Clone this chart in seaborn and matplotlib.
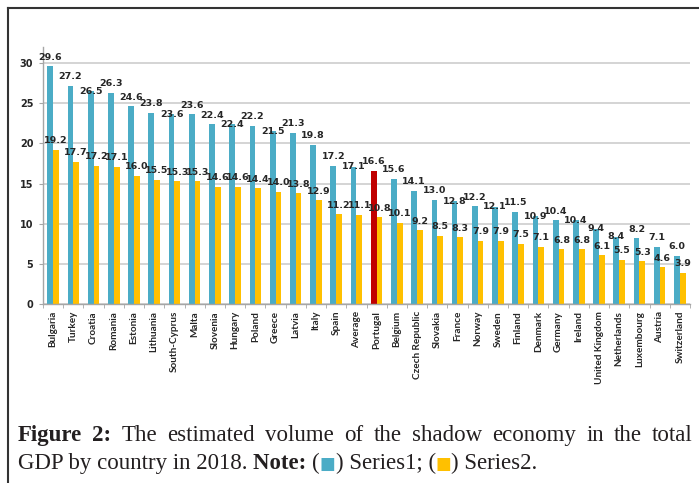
import matplotlib
matplotlib.use("Agg")
import matplotlib.pyplot as plt
import seaborn as sns
import pandas as pd
import numpy as np
from matplotlib.lines import Line2D

countries = ['Bulgaria', 'Turkey', 'Croatia', 'Romania', 'Estonia', 'Lithuania',
             'South-Cyprus', 'Malta', 'Slovenia', 'Hungary', 'Poland', 'Greece',
             'Latvia', 'Italy', 'Spain', 'Average', 'Portugal', 'Belgium',
             'Czech Republic', 'Slovakia', 'France', 'Norway', 'Sweden', 'Finland',
             'Denmark', 'Germany', 'Ireland', 'United Kingdom', 'Netherlands',
             'Luxembourg', 'Austria', 'Switzerland']
series1 = [29.6, 27.2, 26.5, 26.3, 24.6, 23.8, 23.6, 23.6, 22.4, 22.4, 22.2, 21.5,
           21.3, 19.8, 17.2, 17.1, 16.6, 15.6, 14.1, 13.0, 12.8, 12.2, 12.1, 11.5,
           10.9, 10.4, 10.4, 9.4, 8.4, 8.2, 7.1, 6.0]
series2 = [19.2, 17.7, 17.2, 17.1, 16.0, 15.5, 15.3, 15.3, 14.6, 14.6, 14.4, 14.0,
           13.8, 12.9, 11.2, 11.1, 10.8, 10.1, 9.2, 8.5, 8.3, 7.9, 7.9, 7.5,
           7.1, 6.8, 6.8, 6.1, 5.5, 5.3, 4.6, 3.9]
highlight = 'Portugal'

blue = '#4BACC6'
yellow = '#FFC000'
red = '#C00000'

df = pd.DataFrame({'country': countries * 2,
                   'value': series1 + series2,
                   'series': ['Series1'] * len(countries) + ['Series2'] * len(countries)})

W, H = 699, 483
fig = plt.figure(figsize=(W / 100, H / 100), dpi=100)
ax = fig.add_axes([43 / W, (H - 304) / H, (690 - 43) / W, (304 - 47) / H])

sns.barplot(data=df, x='country', y='value', hue='series', palette=[blue, yellow],
            width=0.57, gap=0, saturation=1, legend=False, ax=ax)
ax.containers[0][countries.index(highlight)].set_facecolor(red)

ax.set_xlim(-0.5, len(countries) - 0.5)
ax.set_ylim(0, 32)

# value labels: above the bar, or nudged down onto the bar top (Excel style)
# when it would collide with the neighbouring label of the same series
above = 1.12   # ~9 px in data units
clash = 0.75   # ~6 px
lab_kw = dict(ha='center', va='center', fontsize=6.8, fontweight='bold', color='#262626')
for k, (cont, vals) in enumerate(zip(ax.containers, [series1, series2])):
    prev = None
    for p, v in zip(cont, vals):
        c = v + above
        if k == 0 and prev is not None and abs(c - prev) < clash and abs(v - prev) >= clash:
            c = v
        ax.text(p.get_x() + p.get_width() / 2, c, f'{v:.1f}', **lab_kw)
        prev = c

ax.set_yticks(range(0, 31, 5))
ax.set_xlabel('')
ax.set_ylabel('')
ax.yaxis.grid(True, color='#D4D4D4', linewidth=1.4)
ax.set_axisbelow(True)
for s in ['top', 'right']:
    ax.spines[s].set_visible(False)
for s in ['left', 'bottom']:
    ax.spines[s].set_color('#A6A6A6')
    ax.spines[s].set_linewidth(1.0)

ax.tick_params(axis='y', length=3, color='#A6A6A6', pad=4)
for t in ax.get_yticklabels():
    t.set_fontsize(7)
    t.set_fontweight('bold')
    t.set_color('#262626')
ax.set_xticks(np.arange(-0.5, len(countries), 1), minor=True)
ax.tick_params(axis='x', which='minor', length=3, color='#A6A6A6')
ax.tick_params(axis='x', which='major', length=0, pad=5)
ax.set_xticks(range(len(countries)))
ax.set_xticklabels(countries, rotation=90, fontsize=7.2, family='Lato',
                   fontweight='bold', color='#262626')

# frame of the figure panel
fig.add_artist(Line2D([8 / W, 8 / W], [0, 1 - 8 / H], color='#333333', lw=1.5))
fig.add_artist(Line2D([8 / W, 1], [1 - 8 / H, 1 - 8 / H], color='#333333', lw=1.5))

# caption, drawn piece by piece
serif = ['Liberation Serif', 'DejaVu Serif']
capcol = '#231F20'
fs = 16.5
fig.canvas.draw()
renderer = fig.canvas.get_renderer()


def text_width(s, **kw):
    t = fig.text(0, 0, s, **kw)
    w = t.get_window_extent(renderer).width
    t.remove()
    return w


def draw_pieces(pieces, x0, y, x1=None):
    # pieces: list of (text, kwargs); if x1 given, justify words between x0 and x1
    if x1 is None:
        x = x0
        for s, kw in pieces:
            t = fig.text(x / W, 1 - y / H, s, va='baseline', ha='left', **kw)
            x += t.get_window_extent(renderer).width
        return
    words = []
    for s, kw in pieces:
        for wd in s.split():
            words.append((wd, kw))
    widths = [text_width(wd, **kw) for wd, kw in words]
    space = (x1 - x0 - sum(widths)) / (len(words) - 1)
    x = x0
    for (wd, kw), w in zip(words, widths):
        fig.text(x / W, 1 - y / H, wd, va='baseline', ha='left', **kw)
        x += w + space


reg = dict(family=serif, color=capcol, fontsize=fs)
bold = dict(family=serif, color=capcol, fontsize=fs, fontweight='bold')
draw_pieces([('Figure 2:', bold),
             ('The estimated volume of the shadow economy in the total', reg)],
            18, 441, 693)
draw_pieces([('GDP by country in 2018. ', reg), ('Note: ', bold), ('(', reg),
             ('\u25A0', dict(family=['DejaVu Sans'], color=blue, fontsize=12)),
             (') Series1; (', reg),
             ('\u25A0', dict(family=['DejaVu Sans'], color=yellow, fontsize=12)),
             (') Series2.', reg)],
            18, 469)

fig.savefig('out.png', dpi=100)
